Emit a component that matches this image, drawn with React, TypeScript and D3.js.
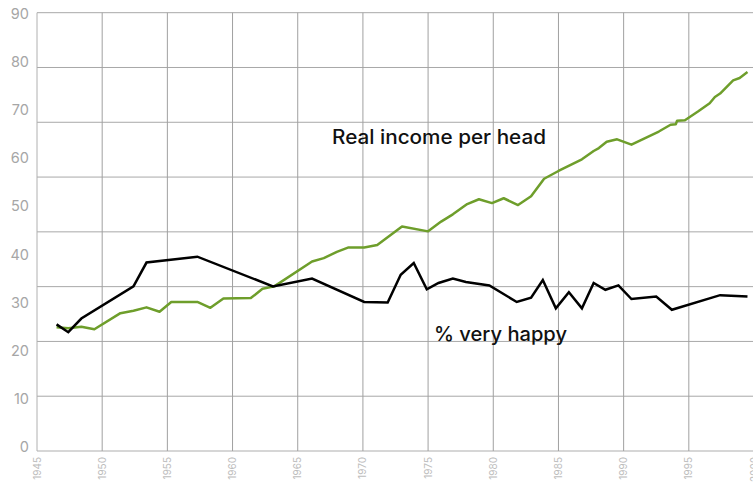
import React from 'react';
import * as d3 from 'd3';

// % very happy (fractional years = mid-year points)
const happyYears = [
  1946.5, 1947.4, 1948.4, 1952.4, 1953.4, 1957.3, 1963.1, 1966.1, 1970.1, 1971.9,
  1972.9, 1973.9, 1974.9, 1975.8, 1976.9, 1977.9, 1979.7, 1981.8, 1982.9, 1983.8,
  1984.8, 1985.8, 1986.8, 1987.7, 1988.6, 1989.6, 1990.6, 1992.5, 1993.7, 1997.4,
  1999.5,
];
const happyValues = [
  26.0, 24.4, 27.2, 33.8, 38.7, 39.9, 33.8, 35.4, 30.6, 30.5,
  36.2, 38.6, 33.2, 34.5, 35.4, 34.7, 34.0, 30.6, 31.5, 35.1,
  29.3, 32.6, 29.3, 34.5, 33.1, 34.0, 31.2, 31.7, 29.0, 32.0,
  31.7,
];

// Real income per head
const incomeYears = [
  1946.5, 1947.4, 1948.4, 1949.4, 1951.4, 1952.4, 1953.4, 1954.4, 1955.3, 1957.3,
  1958.3, 1959.3, 1961.4, 1962.3, 1963.2, 1966.1, 1967.0, 1968.0, 1968.9, 1970.1,
  1971.1, 1973.0, 1975.0, 1976.0, 1976.9, 1978.0, 1978.9, 1979.9, 1980.8, 1981.9,
  1982.9, 1983.9, 1985.0, 1986.8, 1987.7, 1988.1, 1988.7, 1989.5, 1990.6, 1992.7,
  1993.6, 1994.0, 1994.1, 1994.7, 1995.7, 1996.6, 1997.0, 1997.4, 1998.4, 1998.9,
  1999.5,
];
const incomeValues = [
  25.4, 25.2, 25.5, 25.0, 28.3, 28.8, 29.5, 28.6, 30.6, 30.6,
  29.4, 31.3, 31.4, 33.3, 33.8, 38.9, 39.6, 40.9, 41.8, 41.8,
  42.3, 46.1, 45.1, 47.1, 48.6, 50.7, 51.7, 50.9, 51.9, 50.5,
  52.3, 55.9, 57.5, 59.9, 61.6, 62.2, 63.5, 64.0, 62.9, 65.6,
  67.0, 67.1, 67.8, 67.9, 69.7, 71.4, 72.7, 73.4, 76.1, 76.6,
  77.8,
];

const yearTicks = d3.range(1945, 2001, 5);
const yLabels = d3.range(0, 91, 10);
const gridCount = 8;

const W = 753;
const H = 487;

const App: React.FC = () => {
  const x = d3.scaleLinear().domain([1945, 2000]).range([37, 754]);
  const y = d3.scaleLinear().domain([0, 90]).range([451, 12.7]);
  const yLab = d3.scaleLinear().domain([0, 90]).range([452, 19]);
  const gridVals = d3.range(0, gridCount + 1).map(i => (90 / gridCount) * i);

  const line = d3.line<[number, number]>()
    .x(d => x(d[0]))
    .y(d => y(d[1]));

  const happy = happyYears.map((yr, i) => [yr, happyValues[i]] as [number, number]);
  const income = incomeYears.map((yr, i) => [yr, incomeValues[i]] as [number, number]);

  return (
    <div style={{ position: 'fixed', left: 0, top: 0, width: W, height: H, background: '#fff' }}>
      <svg width={W} height={H} style={{ display: 'block', fontFamily: 'Inter, "Liberation Sans", sans-serif' }}>
        {/* horizontal grid */}
        {gridVals.map(v => (
          <line key={'h' + v} x1={x(1945)} x2={W} y1={y(v)} y2={y(v)}
            stroke={v === 0 ? '#c8c8c8' : '#a8a8a8'} strokeWidth={v === 0 ? 1.5 : 1} />
        ))}
        {/* vertical grid */}
        {yearTicks.map(t => (
          <line key={'v' + t} x1={x(t)} x2={x(t)} y1={y(90)} y2={y(0)}
            stroke={t === 1945 ? '#b0b0b0' : '#a0a0a0'} strokeWidth={1} />
        ))}
        {/* y labels */}
        {yLabels.map(v => (
          <text key={'yl' + v} x={29} y={yLab(v)} textAnchor="end" fontSize={14.5} fill="#a6a6a6">{v}</text>
        ))}
        {/* x labels */}
        {yearTicks.map(t => (
          <text key={'xl' + t} transform={`translate(${x(t) + 3.5},457) rotate(-90)`}
            textAnchor="end" fontSize={10} fill="#bdbdbd">{t}</text>
        ))}
        <path d={line(income) || ''} fill="none" stroke="#6e9e2b" strokeWidth={2.5} strokeLinejoin="round" />
        <path d={line(happy) || ''} fill="none" stroke="#000" strokeWidth={2.5} strokeLinejoin="miter" />
        <text x={332} y={144} fontSize={19.5} fontWeight={500} fill="#111"
          textLength={214} lengthAdjust="spacingAndGlyphs">Real income per head</text>
        <text x={434} y={341} fontSize={19.5} fontWeight={500} fill="#111"
          textLength={133} lengthAdjust="spacingAndGlyphs">% very happy</text>
      </svg>
    </div>
  );
};

export default App;
